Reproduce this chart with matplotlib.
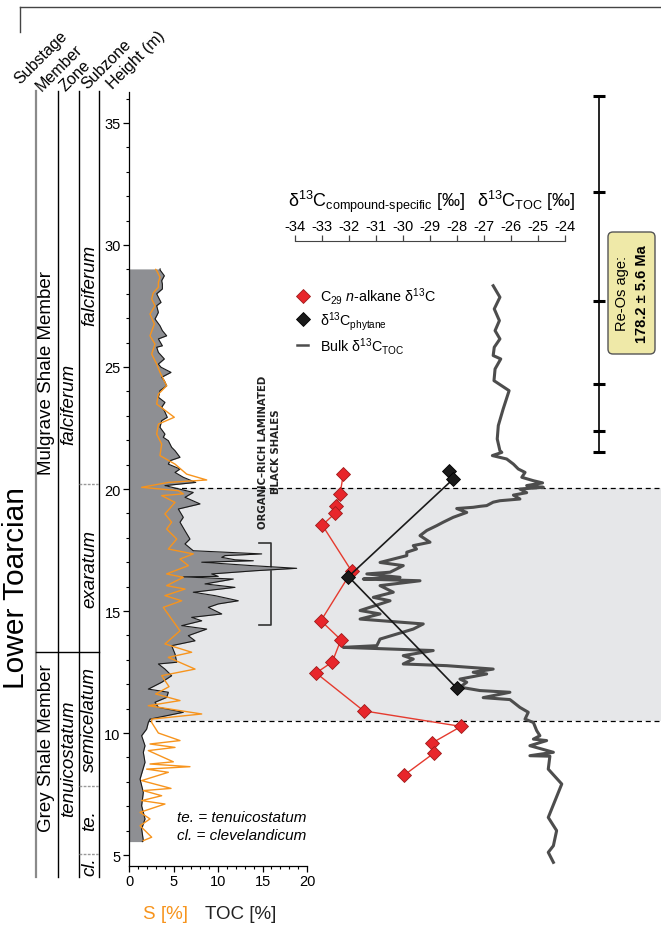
import matplotlib
matplotlib.use('Agg')
import matplotlib.pyplot as plt
from matplotlib.lines import Line2D
from matplotlib.patches import FancyBboxPatch
from matplotlib.ticker import MultipleLocator
from matplotlib.transforms import IdentityTransform

plt.rcParams['font.family'] = ['Liberation Sans', 'DejaVu Sans']
plt.rcParams['mathtext.fontset'] = 'custom'
plt.rcParams['mathtext.rm'] = 'Liberation Sans'
plt.rcParams['mathtext.it'] = 'Liberation Sans:italic'
plt.rcParams['mathtext.bf'] = 'Liberation Sans:bold'
plt.rcParams['axes.unicode_minus'] = False

# ---- data ----
# TOC (wt %) vs height (m)
toc_h = [29.02, 28.98, 28.74, 28.54, 28.4, 28.2, 28.0, 27.86, 27.65, 27.51, 27.24, 27.1,
         26.97, 26.69, 26.49, 26.28, 26.15, 25.87, 25.81, 25.6, 25.33, 25.12, 24.99, 24.78,
         24.58, 24.44, 24.23, 24.03, 23.76, 23.55, 23.35, 23.21, 22.94, 22.8, 22.53, 22.25,
         22.12, 21.98, 21.71, 21.57, 21.3, 21.16, 21.02, 20.82, 20.68, 20.48, 20.27, 20.14,
         19.86, 19.66, 19.39, 19.18, 18.84, 18.64, 18.29, 17.95, 17.75, 17.47, 17.34, 17.27,
         17.2, 17.1, 17.06, 17.0, 16.86, 16.75, 16.65, 16.52, 16.42, 16.4, 16.31, 16.11,
         15.97, 15.77, 15.63, 15.42, 15.29, 15.15, 14.88, 14.74, 14.6, 14.4, 14.26, 13.99,
         13.78, 13.58, 13.24, 12.9, 12.83, 12.62, 12.35, 12.08, 11.8, 11.67, 11.46, 11.26,
         11.05, 10.85, 10.57, 10.43, 10.16, 9.89, 9.48, 9.21, 8.8, 8.11, 7.57, 7.02,
         6.48, 6.07, 5.59, 5.55]
toc = [3.5, 3.48, 3.97, 3.67, 3.75, 3.75, 3.11, 3.3, 3.6, 3.11, 3.3, 3.11,
       2.92, 3.48, 3.75, 4.23, 3.3, 3.75, 3.11, 3.3, 3.97, 3.3, 3.6, 4.72,
       3.67, 3.97, 4.23, 3.48, 3.3, 4.04, 3.67, 3.97, 4.3, 3.67, 3.48, 4.04,
       3.85, 4.42, 4.79, 5.17, 5.73, 4.6, 4.42, 5.73, 5.17, 6.1, 7.5, 4.04,
       7.22, 6.29, 7.98, 5.54, 6.1, 5.73, 6.29, 6.85, 6.29, 7.22, 14.91, 10.79,
       10.42, 11.91, 13.97, 8.17, 13.79, 18.84, 14.16, 9.29, 10.03, 6.1, 11.72, 8.54,
       11.91, 7.22, 9.66, 12.28, 10.03, 8.91, 10.42, 7.04, 8.17, 5.92, 8.73, 6.66,
       7.42, 4.79, 5.17, 5.36, 3.3, 4.04, 4.79, 3.67, 2.17, 4.42, 4.23, 2.92,
       3.3, 6.1, 2.36, 2.17, 1.98, 1.42, 1.8, 1.61, 1.8, 1.24, 1.61, 1.42,
       1.8, 1.42, 1.61, 1.5]

# S (wt %) vs height (m)
s_h = [29.0, 28.95, 28.68, 28.47, 28.27, 28.04, 27.79, 27.51, 27.17, 26.76, 26.28, 25.94,
       25.53, 25.12, 24.78, 24.23, 23.89, 23.48, 22.94, 22.66, 22.25, 21.84, 21.37, 21.02,
       20.61, 20.37, 20.27, 20.07, 19.93, 19.8, 19.73, 19.45, 18.98, 18.64, 18.36, 17.95,
       17.54, 17.34, 17.13, 16.86, 16.52, 16.38, 16.04, 15.9, 15.63, 15.42, 15.15, 14.67,
       14.19, 13.65, 13.31, 13.1, 12.62, 12.35, 11.9, 11.6, 11.33, 11.12, 10.78, 10.57,
       10.43, 10.0, 9.69, 9.55, 9.41, 9.28, 8.82, 8.73, 8.62, 8.52, 8.39, 8.05,
       7.73, 7.64, 7.43, 7.23, 7.09, 6.75, 6.48, 6.2, 5.73, 5.59]
s_val = [3.0, 3.11, 3.48, 3.3, 3.3, 2.73, 2.55, 2.92, 2.36, 2.85, 2.36, 2.92,
         2.55, 3.11, 3.48, 4.23, 3.3, 3.11, 5.09, 3.3, 3.11, 3.67, 3.48, 5.17,
         6.48, 8.73, 4.42, 1.42, 5.54, 6.1, 3.67, 5.17, 4.04, 4.79, 4.23, 5.36,
         4.42, 7.22, 5.73, 6.67, 4.23, 6.1, 4.23, 6.29, 4.04, 5.92, 3.85, 4.79,
         5.73, 4.04, 7.04, 4.42, 7.42, 3.67, 4.5, 3.0, 5.73, 2.17, 8.17, 2.55,
         2.55, 3.3, 5.73, 2.36, 5.17, 2.17, 4.98, 2.36, 6.85, 1.98, 4.42, 1.42,
         4.72, 1.61, 3.67, 1.42, 4.04, 1.24, 2.36, 1.24, 2.55, 1.61]

# bulk organic carbon isotopes (permil)
bulk_h = [28.33, 27.86, 27.38, 26.9, 26.49, 26.15, 25.81, 25.47, 25.33, 24.92, 24.44, 24.03,
          23.28, 22.6, 22.05, 21.57, 21.5, 21.37, 21.23, 21.02, 20.82, 20.68, 20.48, 20.34,
          20.25, 20.14, 20.07, 20.0, 19.85, 19.75, 19.59, 19.52, 19.46, 19.32, 19.29, 19.25,
          19.2, 19.04, 18.84, 18.64, 18.5, 18.3, 18.09, 17.82, 17.68, 17.54, 17.41, 17.27,
          17.2, 16.99, 16.86, 16.59, 16.52, 16.38, 16.31, 16.24, 16.04, 15.77, 15.56, 15.42,
          15.02, 14.88, 14.67, 14.47, 14.26, 13.85, 13.58, 13.51, 13.38, 13.17, 13.03, 12.83,
          12.76, 12.62, 12.49, 12.42, 12.21, 12.08, 11.88, 11.74, 11.67, 11.45, 11.37, 11.26,
          11.05, 10.85, 10.57, 10.43, 10.1, 9.89, 9.75, 9.69, 9.48, 9.21, 9.07, 9.05,
          8.52, 7.91, 6.54, 6.0, 5.38, 5.11, 4.7]
bulk_d13c = [-26.66, -26.41, -26.62, -26.43, -26.59, -26.41, -26.62, -26.66, -26.38, -26.59, -26.63, -26.07,
             -26.29, -26.47, -26.51, -26.41, -26.34, -26.69, -26.16, -25.91, -25.73, -25.48, -25.6, -25.17,
             -24.83, -25.42, -24.8, -25.67, -25.42, -25.91, -25.67, -26.41, -26.66, -26.9, -27.15, -27.4,
             -28.01, -27.64, -28.14, -28.51, -28.75, -29.12, -29.37, -29.0, -29.62, -29.5, -29.86, -29.86,
             -30.11, -30.85, -29.99, -30.48, -31.34, -30.11, -31.47, -29.37, -30.85, -30.36, -31.1, -30.48,
             -31.59, -30.85, -31.59, -29.25, -29.62, -30.85, -30.97, -32.21, -28.88, -29.99, -29.62, -29.99,
             -28.38, -26.66, -27.4, -26.9, -27.89, -27.64, -27.89, -27.15, -26.04, -27.03, -26.04, -25.91,
             -25.67, -25.36, -25.48, -25.17, -25.05, -24.93, -25.17, -24.68, -25.3, -24.43, -25.3, -24.56,
             -24.62, -24.12, -24.62, -24.31, -24.43, -24.62, -24.43]

# compound-specific isotopes (permil)
alk_h = [20.61, 19.8, 19.32, 19.0, 18.52, 16.63, 14.6, 13.82, 12.91, 12.46, 10.91, 10.27, 9.6, 9.18, 8.28]
alk_d13c = [-32.21, -32.33, -32.48, -32.52, -32.99, -31.9, -33.04, -32.3, -32.62, -33.22,
            -31.46, -27.85, -28.91, -28.85, -29.95]
phy_h = [20.73, 20.41, 16.41, 11.84]
phy_d13c = [-28.3, -28.14, -32.02, -28.01]

# Re-Os sample heights
reos_h = [36.1, 32.17, 27.7, 24.3, 22.38, 21.52]

# stratigraphy
member_boundary = 13.3
subzone_bounds = [20.2, 7.83, 5.04]
black_shale = (10.5, 20.05)

# ---- layout ----
W, H = 661, 929
HMIN, HMAX = 4.55, 36.27
PIX = IdentityTransform()


def box(x0, x1, y0, y1):
    return [x0 / W, 1 - y1 / H, (x1 - x0) / W, (y1 - y0) / H]


fig = plt.figure(figsize=(W / 100, H / 100), dpi=100)

# background axes, x in pixels
ax_bg = fig.add_axes(box(0, W, 93, 867))
ax_bg.set_xlim(0, W)
ax_bg.set_ylim(HMIN, HMAX)
ax_bg.axis('off')

ax_bg.fill_between([129, W], black_shale[0], black_shale[1], color='#E6E7E9', lw=0, zorder=0)
for yb in black_shale:
    ax_bg.plot([129, W], [yb, yb], color='black', lw=0.9, ls=(0, (4, 3)), zorder=1)

# stratigraphic columns
ax_bg.plot([36, 36], [4.1, 36.3], color='#8a8a8a', lw=1.6, clip_on=False)
for xc in [57.5, 79, 99]:
    ax_bg.plot([xc, xc], [4.1, 36.3], color='black', lw=1.0, clip_on=False)
ax_bg.plot([36, 99], [member_boundary] * 2, color='black', lw=1.0)
for yb in subzone_bounds:
    ax_bg.plot([79, 99], [yb, yb], color='#999999', lw=1.0, ls=(0, (2, 1)))

ax_bg.text(16, 16.0, 'Lower Toarcian', rotation=90, ha='center', va='center', fontsize=21.5)
ax_bg.text(46.5, 24.8, 'Mulgrave Shale Member', rotation=90, ha='center', va='center', fontsize=13.5)
ax_bg.text(46.5, 9.43, 'Grey Shale Member', rotation=90, ha='center', va='center', fontsize=13.5)
ax_bg.text(68.5, 23.5, 'falciferum', rotation=90, ha='center', va='center', fontsize=13.5, style='italic')
ax_bg.text(68.5, 8.98, 'tenuicostatum', rotation=90, ha='center', va='center', fontsize=13.5, style='italic')
for yc, name in [(28.4, 'falciferum'), (16.75, 'exaratum'), (10.6, 'semicelatum'),
                 (6.45, 'te.'), (4.55, 'cl.')]:
    ax_bg.text(89.5, yc, name, rotation=90, ha='center', va='center', fontsize=13.5,
               style='italic', clip_on=False)

# black shale bracket
ax_bg.plot([259, 271, 271, 259], [17.78, 17.78, 14.44, 14.44], color='#333333', lw=1.2)
ax_bg.text(269.5, 21.56, 'ORGANIC\u2013RICH LAMINATED\nBLACK SHALES', rotation=90, ha='center',
           va='center', multialignment='center', fontsize=7.3, fontweight='bold',
           family='DejaVu Sans', linespacing=1.3, color='#222222')

# Re-Os sample bar
ax_bg.plot([599, 599], [min(reos_h), max(reos_h)], color='black', lw=1.2)
for yr in reos_h:
    ax_bg.plot([593, 605], [yr, yr], color='black', lw=2.2, solid_capstyle='butt')

# TOC and S
ax_toc = fig.add_axes(box(129, 307, 93, 867))
ax_toc.patch.set_alpha(0)
ax_toc.set_xlim(0, 20)
ax_toc.set_ylim(HMIN, HMAX)
ax_toc.fill_betweenx(toc_h, 0, toc, color='#8E8F93', lw=0)
ax_toc.plot(toc, toc_h, color='#1a1a1a', lw=0.8)
ax_toc.plot(s_val, s_h, color='#F7941D', lw=1.0)
for sp in ['top', 'right']:
    ax_toc.spines[sp].set_visible(False)
ax_toc.spines['bottom'].set_bounds(0, 20)
ax_toc.xaxis.set_major_locator(MultipleLocator(5))
ax_toc.xaxis.set_minor_locator(MultipleLocator(1))
ax_toc.yaxis.set_major_locator(MultipleLocator(5))
ax_toc.yaxis.set_minor_locator(MultipleLocator(1))
ax_toc.tick_params(which='major', length=4, width=0.9, labelsize=10.5, pad=2)
ax_toc.tick_params(which='minor', length=2.5, width=0.8)
for sp in ['left', 'bottom']:
    ax_toc.spines[sp].set_linewidth(0.9)

# compound-specific and bulk isotopes
ax_iso = fig.add_axes(box(295, 565, 93, 867))
ax_iso.patch.set_alpha(0)
ax_iso.set_xlim(-34, -24)
ax_iso.set_ylim(HMIN, HMAX)
ax_iso.plot(bulk_d13c, bulk_h, color='#4D4D4D', lw=2.2, zorder=2)
ax_iso.plot(alk_d13c, alk_h, color='#E53A2E', lw=1.0, marker='D', ms=7,
            mfc='#E8262B', mec='#9E1B1B', mew=0.6, zorder=3)
ax_iso.plot(phy_d13c, phy_h, color='#1a1a1a', lw=1.2, marker='D', ms=7,
            mfc='#1a1a1a', mec='black', mew=0.6, zorder=4)
for sp in ['left', 'right', 'bottom']:
    ax_iso.spines[sp].set_visible(False)
ax_iso.spines['top'].set_position(('data', 30.16))
ax_iso.spines['top'].set_color('#444444')
ax_iso.xaxis.set_ticks_position('top')
ax_iso.xaxis.set_label_position('top')
ax_iso.set_xticks(range(-34, -23))
ax_iso.set_yticks([])
ax_iso.tick_params(axis='x', length=4, width=0.9, color='#444444', labelsize=10.5, pad=2)

fig.text(288, H - 207, r'δ$^{13}$C$_{\text{compound-specific}}$ [‰]', transform=PIX,
         fontsize=13, va='baseline')
fig.text(477, H - 207, r'δ$^{13}$C$_{\mathrm{TOC}}$ [‰]', transform=PIX,
         fontsize=13, va='baseline')

handles = [
    Line2D([], [], ls='none', marker='D', ms=7, mfc='#E8262B', mec='#9E1B1B', mew=0.6),
    Line2D([], [], ls='none', marker='D', ms=7, mfc='#1a1a1a', mec='black', mew=0.6),
    Line2D([], [], color='#4D4D4D', lw=1.8),
]
labels = [r'C$_{29}$ $n$-alkane δ$^{13}$C', r'δ$^{13}$C$_{\mathrm{phytane}}$',
          r'Bulk δ$^{13}$C$_{\mathrm{TOC}}$']
fig.legend(handles, labels, loc='upper left', bbox_to_anchor=(297 / W, 1 - 286 / H),
           frameon=False, fontsize=10.3, handlelength=0.8, handletextpad=0.8,
           labelspacing=0.2, borderpad=0, borderaxespad=0)

# Re-Os age box
fig.add_artist(FancyBboxPatch((608, H - 355), 47, 122, boxstyle='round,pad=0,rounding_size=5',
                              transform=PIX, fc='#EFE9A8', ec='#555555', lw=1.0))
fig.text(622, H - 294, 'Re-Os age:', transform=PIX, rotation=90, ha='center', va='center',
         fontsize=10.5)
fig.text(642, H - 294, '178.2 ± 5.6 Ma', transform=PIX, rotation=90, ha='center', va='center',
         fontsize=10.5, fontweight='bold')

# axis labels and notes
fig.text(143, H - 915, 'S [%]', transform=PIX, color='#F7941D', fontsize=13.5, va='center')
fig.text(205, H - 915, 'TOC [%]', transform=PIX, color='#222222', fontsize=13.5, va='center')
fig.text(177, H - 818, 'te. = tenuicostatum', transform=PIX, fontsize=11, style='italic', va='center')
fig.text(177, H - 836, 'cl. = clevelandicum', transform=PIX, fontsize=11, style='italic', va='center')

# column headers
for x0, y0, name in [(20, 85, 'Substage'), (42, 92, 'Member'), (65, 92, 'Zone'),
                     (87, 90, 'Subzone'), (113, 90, 'Height (m)')]:
    fig.text(x0, H - y0, name, transform=PIX, rotation=45, rotation_mode='anchor',
             ha='left', va='baseline', fontsize=11.5)

# top frame
fig.add_artist(Line2D([20, W], [H - 7.5, H - 7.5], transform=PIX, color='#444444', lw=1.0))
fig.add_artist(Line2D([20, 20], [H - 7.5, H - 33], transform=PIX, color='#444444', lw=1.0))

fig.savefig('out.png', dpi=100)
